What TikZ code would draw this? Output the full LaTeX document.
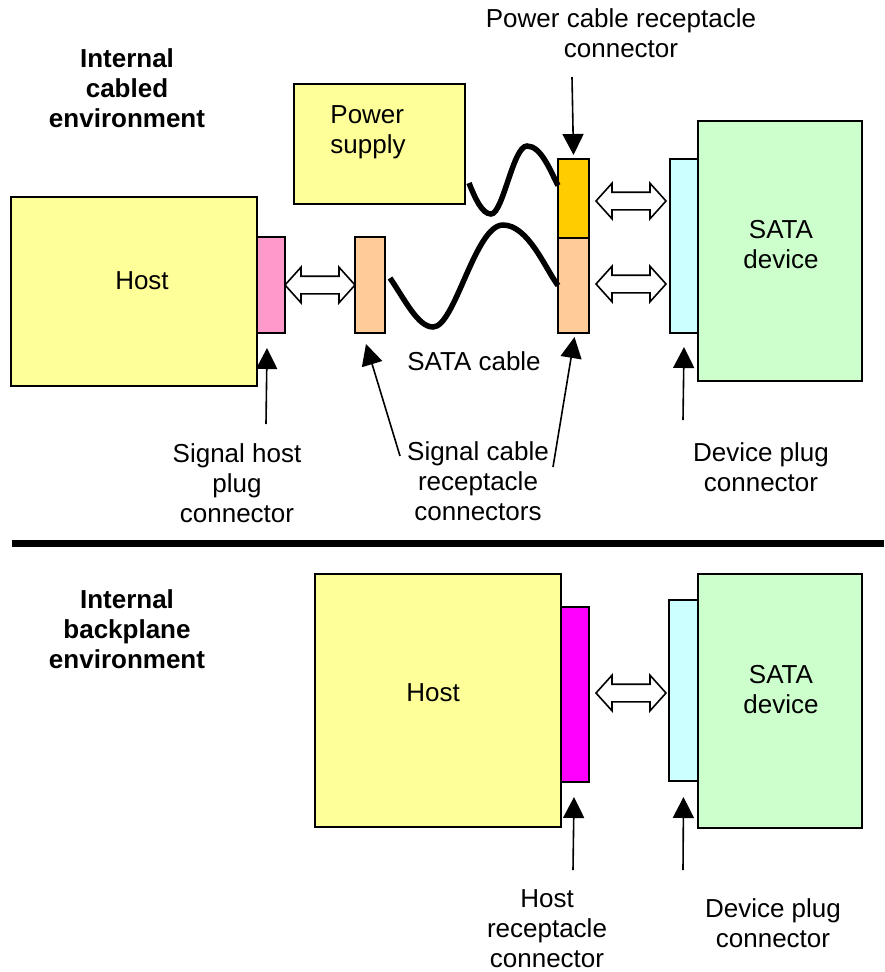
\documentclass[tikz,border=0pt]{standalone}
\usepackage{fontspec}
\setmainfont{Liberation Sans}
\usetikzlibrary{arrows.meta,shapes.arrows,calc}
\definecolor{boxyellow}{HTML}{FFFF99}
\definecolor{devgreen}{HTML}{CCFFCC}
\definecolor{plugcyan}{HTML}{CCFFFF}
\definecolor{plugpink}{HTML}{FF99CC}
\definecolor{recpeach}{HTML}{FFCC99}
\definecolor{pwrorange}{HTML}{FFCC00}
\definecolor{recmagenta}{HTML}{FF00FF}
\begin{document}
\begin{tikzpicture}[x=1pt,y=-1pt]

    \tikzset{
      box/.style={
        draw,
        line width=2pt,
        inner sep=0pt,
        anchor=north west,
      },
      txt/.style={
        align=center,
        inner sep=0pt,
        font=\fontsize{26}{30}\selectfont,
      },
      ptr/.style={
        line width=1.6pt,
        -{Triangle[length=21pt,width=21pt]},
      },
      cable/.style={
        line width=5.5pt,
      },
      dblarrow/.style={
        double arrow,
        draw,
        fill=white,
        line width=1.6pt,
        inner xsep=0pt,
        inner ysep=8pt,
        minimum height=70pt,
        double arrow head extend=9pt,
        double arrow tip angle=96,
      },
    }

	\useasboundingbox (0,0) rectangle (884,972);

	% cabled environment
	\node[txt,font=\fontsize{26}{30}\selectfont\bfseries] (titletop) at (127,88) {Internal\\cabled\\environment};
	\node[box,fill=boxyellow,minimum width=171pt,minimum height=120pt] (psu) at (293,83) {};
	\node[box,fill=boxyellow,minimum width=246pt,minimum height=189pt] (host) at (10,196) {};
	\node[box,fill=plugpink,minimum width=28pt,minimum height=96pt] (hplug) at (256,236) {};
	\node[box,fill=recpeach,minimum width=30pt,minimum height=96pt] (crecL) at (354,236) {};
	\node[box,fill=pwrorange,minimum width=31pt,minimum height=79pt] (pwrrec) at (557,158) {};
	\node[box,fill=recpeach,minimum width=31pt,minimum height=95pt] (crecR) at (557,237) {};
	\node[box,fill=plugcyan,minimum width=28pt,minimum height=174pt] (dplug) at (669,158) {};
	\node[box,fill=devgreen,minimum width=164pt,minimum height=260pt] (dev) at (697,120) {};

	\node[txt,align=left] (psutxt) at (368,132) {Power\\supply};
	\node[txt] (hosttxt) at (142,281) {Host};
	\node[txt] (devtxt) at (781,245) {SATA\\device};
	\node[txt] (cabletxt) at (474,361) {SATA cable};
	\node[txt] (pwrlbl) at (621,33) {Power cable receptacle\\connector};
	\node[txt] (hplbl) at (237,483) {Signal host\\plug\\connector};
	\node[txt] (creclbl) at (478,481) {Signal cable\\receptacle\\connectors};
	\node[txt] (dplbl) at (761,467) {Device plug\\connector};

	\node[dblarrow] (hostlink) at ($(hplug.east)!0.5!(crecL.west)$) {};
	\node[dblarrow] (pwrlink) at (631,201) {};
	\node[dblarrow] (siglink) at (631,284) {};

	% cables
	\draw[cable] ([shift={(3,39)}]psu.east) .. controls (475,198) and (482,214) .. (491,214)
		.. controls (503,214) and (513,146) .. (527,146)
		.. controls (541,146) and (550,170) .. ([shift={(1,-13)}]pwrrec.west);
	\draw[cable] ([shift={(4,-7)}]crecL.east) .. controls (405,300) and (418,327) .. (433,327)
		.. controls (455,327) and (475,225) .. (503,225)
		.. controls (528,225) and (545,268) .. ([shift={(1,0)}]crecR.west);

	% pointers
	\coordinate (pwrtail) at (572,77);
	\coordinate (hptail) at (266,424);
	\coordinate (crecLtail) at (400,456);
	\coordinate (crecRtail) at (553,467);
	\coordinate (dptail) at (683,420);
	\draw[ptr] (pwrtail) -- ([yshift=3pt]pwrrec.north);
	\draw[ptr] (hptail) -- ([shift={(-4,14)}]hplug.south);
	\draw[ptr] (crecLtail) -- ([shift={(-4,10)}]crecL.south);
	\draw[ptr] (crecRtail) -- ([shift={(1,3)}]crecR.south);
	\draw[ptr] (dptail) -- ([shift={(0,13)}]dplug.south);

	\draw[line width=6.5pt] (12,543.5) -- (884,543.5);

	% backplane environment
	\node[txt,font=\fontsize{26}{30}\selectfont\bfseries] (titlebot) at (127,629) {Internal\\backplane\\environment};
	\node[box,fill=boxyellow,minimum width=246pt,minimum height=253pt] (bhost) at (314,573) {};
	\node[box,fill=recmagenta,minimum width=28pt,minimum height=175pt] (brec) at (560,606) {};
	\node[box,fill=plugcyan,minimum width=29pt,minimum height=181pt] (bplug) at (668,599) {};
	\node[box,fill=devgreen,minimum width=164pt,minimum height=254pt] (bdev) at (697,573) {};

	\node[txt] (bhosttxt) at (433,693) {Host};
	\node[txt] (bdevtxt) at (781,690) {SATA\\device};
	\node[txt] (brlbl) at (547,929) {Host\\receptacle\\connector};
	\node[txt] (bplbl) at (773,923) {Device plug\\connector};

	\node[dblarrow] (blink) at (631,693) {};

	\coordinate (brtail) at (573,870);
	\coordinate (bptail) at (683,870);
	\draw[ptr] (brtail) -- ([shift={(-1,14)}]brec.south);
	\draw[ptr] (bptail) -- ([shift={(0,15)}]bplug.south);

\end{tikzpicture}
\end{document}
